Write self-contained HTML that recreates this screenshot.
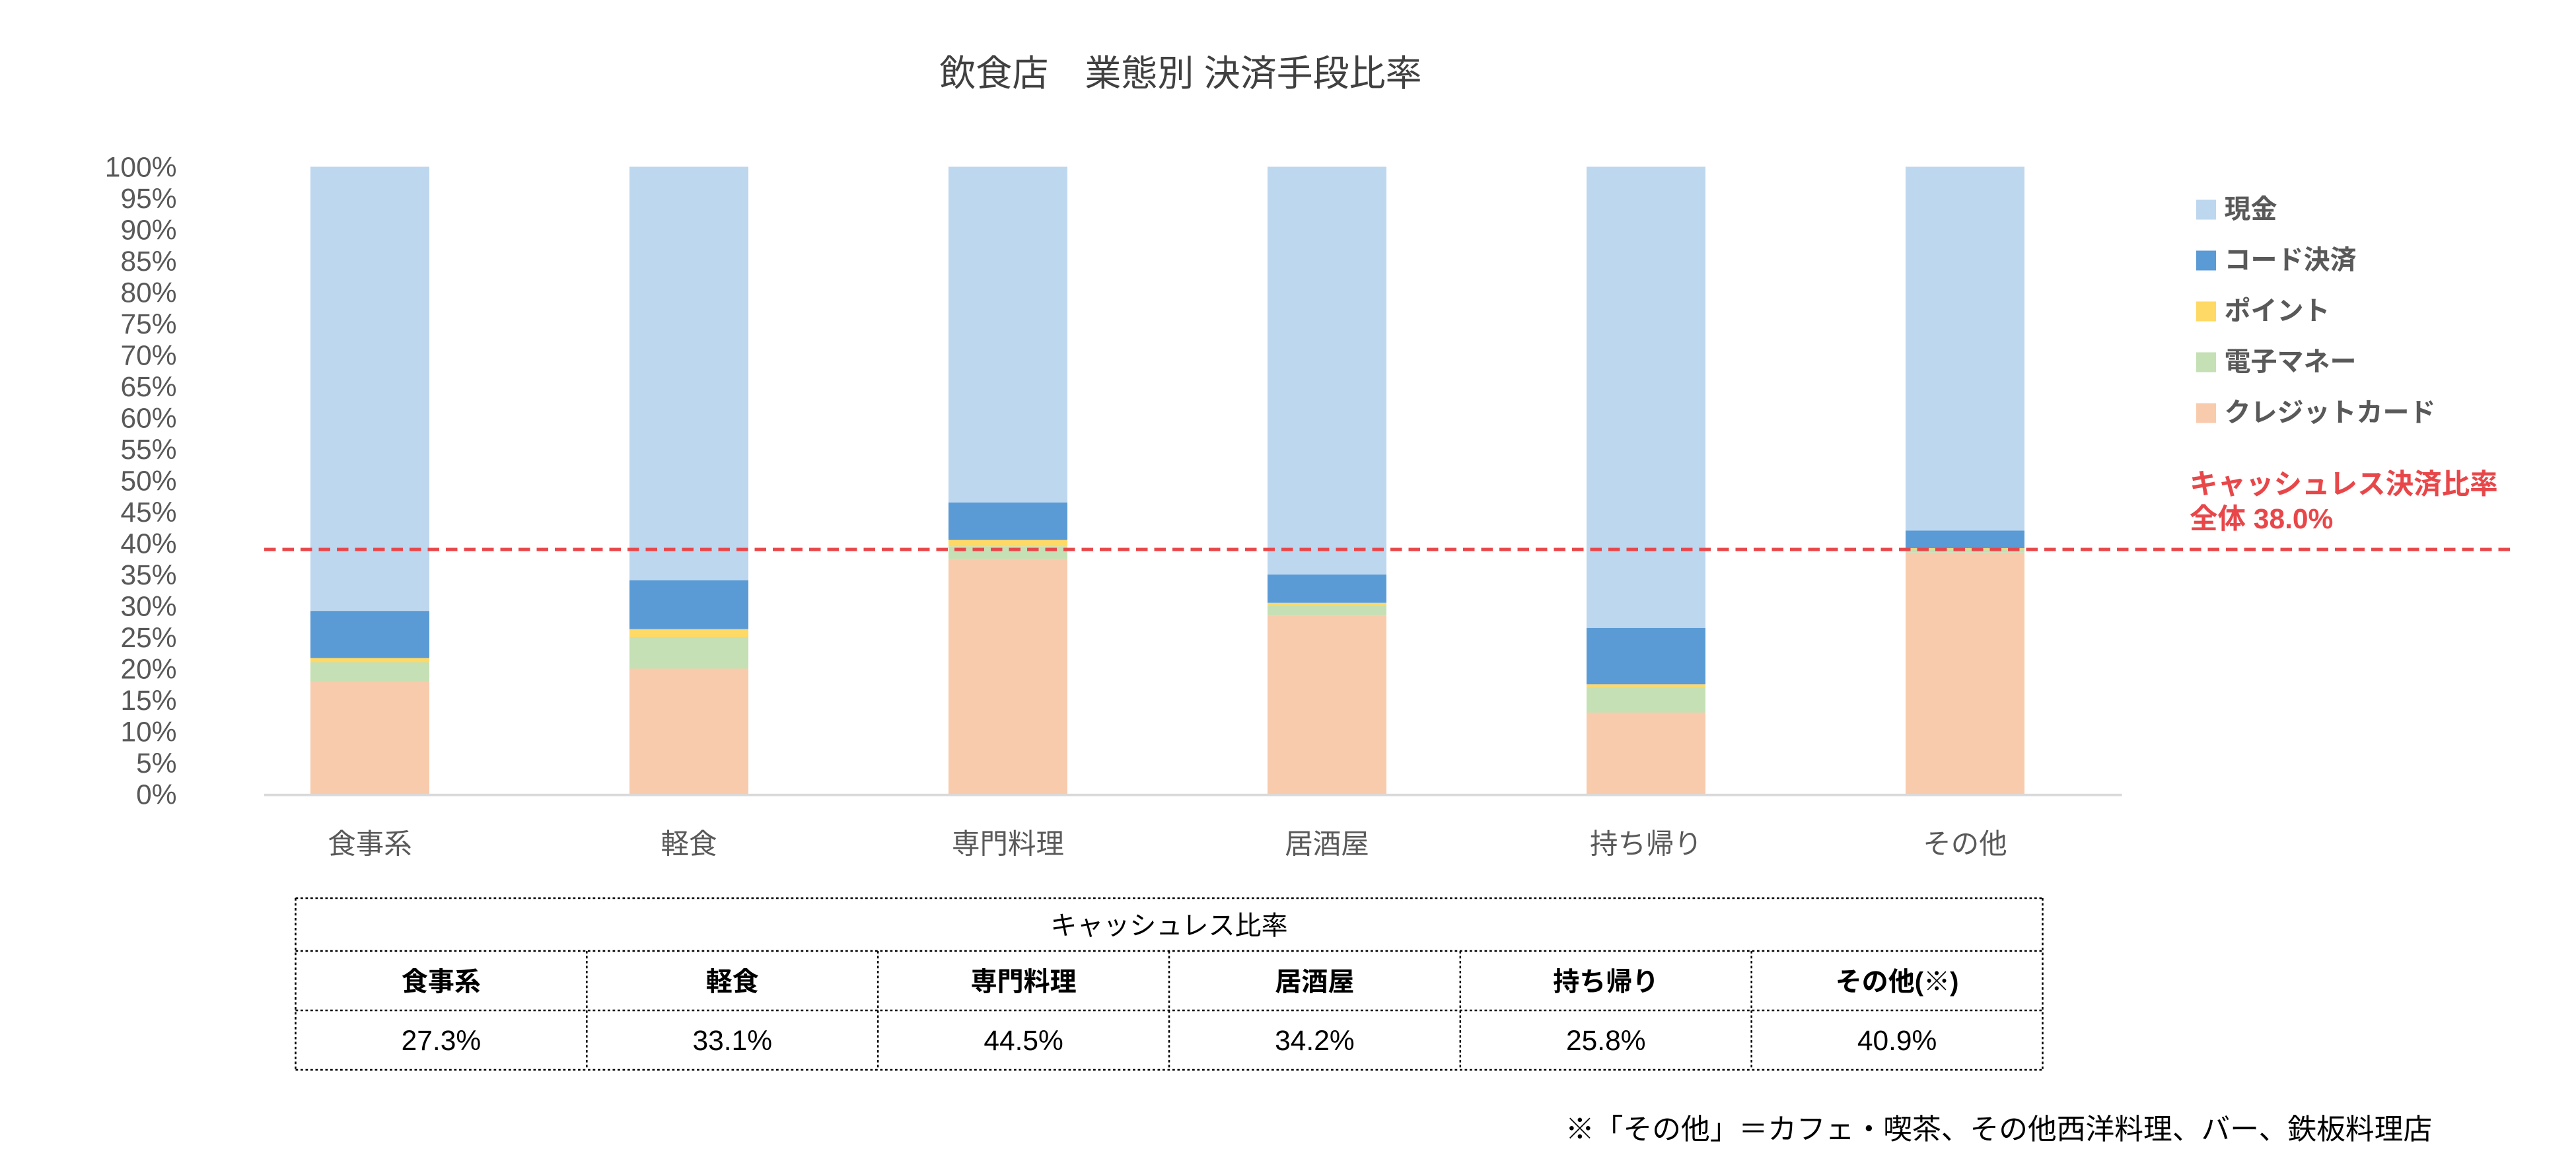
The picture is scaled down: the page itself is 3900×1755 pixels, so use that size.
<!DOCTYPE html>
<html><head><meta charset="utf-8"><style>
html,body{margin:0;padding:0;background:#fff}
svg{display:block}
text{font-family:"Liberation Sans","Noto Sans CJK JP",sans-serif}
</style></head><body>
<svg id="chart" width="3900" height="1755" viewBox="0 0 1560 702" xmlns="http://www.w3.org/2000/svg">
<text x="715" y="52" font-size="22" fill="#404040" text-anchor="middle">飲食店　業態別 決済手段比率</text>
<g id="yaxis"></g>
<g id="bars"></g>
<line x1="160" y1="481.5" x2="1285" y2="481.5" stroke="#d9d9d9" stroke-width="1.5"/>
<g id="xlabels"></g>
<line id="refline" x1="160" x2="1522" stroke="#e8474a" stroke-width="2" stroke-dasharray="7,4"/>
<text x="1326" y="299" font-size="17" font-weight="bold" fill="#e8474a">キャッシュレス決済比率</text>
<text x="1326" y="320" font-size="17" font-weight="bold" fill="#e8474a">全体 38.0%</text>
<g id="legend"></g>
<g id="table"></g>
<text x="948" y="690" font-size="17.5" fill="#000">※「その他」＝カフェ・喫茶、その他西洋料理、バー、鉄板料理店</text>
</svg>
<script>
const categories=["食事系","軽食","専門料理","居酒屋","持ち帰り","その他"];
const credit=[18,20,37.5,28.5,13,38.5];
const emoney=[3,5,2,1.5,4,0.5];
const point=[0.7,1.3,1,0.5,0.5,0.2];
const code=[7.5,7.8,6,4.5,9,2.8];
const seriesNames=["クレジットカード","電子マネー","ポイント","コード決済","現金"];
const legendOrder=["現金","コード決済","ポイント","電子マネー","クレジットカード"];
const yTicks=[0,5,10,15,20,25,30,35,40,45,50,55,60,65,70,75,80,85,90,95,100];
const overall=39;
const tableCats=["食事系","軽食","専門料理","居酒屋","持ち帰り","その他(※)"];
const tableVals=["27.3%","33.1%","44.5%","34.2%","25.8%","40.9%"];

const colors={"現金":"#bdd7ee","コード決済":"#5b9bd5","ポイント":"#ffd966","電子マネー":"#c5e0b4","クレジットカード":"#f8cbad"};
const NS="http://www.w3.org/2000/svg";
const y=v=>481-v*3.8;
const x=i=>224+i*193.2;
const bw=72;
function mk(tag,attrs,parent,txt){const e=document.createElementNS(NS,tag);for(const k in attrs)e.setAttribute(k,attrs[k]);if(txt!==undefined)e.textContent=txt;parent.appendChild(e);return e;}

const ya=document.getElementById('yaxis');
yTicks.forEach(t=>{const e=mk('text',{x:107,y:y(t)+6,'font-size':17,fill:'#595959','text-anchor':'end'},ya,t+'%');

});

const bars=document.getElementById('bars');
categories.forEach((c,i)=>{
  const vals=[credit[i],emoney[i],point[i],code[i]];
  const tot=vals.reduce((a,b)=>a+b,0);
  vals.push(100-tot);
  let base=0;
  vals.forEach((v,j)=>{
    const r=mk('rect',{x:x(i)-bw/2,y:y(base+v),width:bw,height:v*3.8,fill:colors[seriesNames[j]]},bars);
    
    
    base+=v;
  });
  const t=mk('text',{x:x(i),y:517,'font-size':17,fill:'#595959','text-anchor':'middle'},document.getElementById('xlabels'),c);
  
  
});
const rl=document.getElementById('refline');rl.setAttribute('y1',y(overall));rl.setAttribute('y2',y(overall));

const lg=document.getElementById('legend');
legendOrder.forEach((n,i)=>{
  const yy=126+i*30.8;
  const r=mk('rect',{x:1330,y:yy-5,width:12,height:12,fill:colors[n]},lg);
  
  
  const t=mk('text',{x:1347,y:yy+6,'font-size':16,'font-weight':'bold',fill:'#595959'},lg,n);
  
  
});

const tb=document.getElementById('table');
const L=179,R=1237,T=544,r1=576,r2=612,B=648,cw=(R-L)/6;
const ds={stroke:'#000','stroke-width':1,'stroke-dasharray':'1.5,1.5'};
function dl(x1,y1,x2,y2){const l=mk('line',Object.assign({x1,y1,x2,y2},ds),tb);}
dl(L,T,R,T);dl(L,r1,R,r1);dl(L,r2,R,r2);dl(L,B,R,B);dl(L,T,L,B);dl(R,T,R,B);
for(let k=1;k<6;k++)dl(L+k*cw,r1,L+k*cw,B);
const h=mk('text',{x:(L+R)/2,y:566,'font-size':16,fill:'#000','text-anchor':'middle'},tb,'キャッシュレス比率');


tableCats.forEach((c,k)=>{
  const a=mk('text',{x:L+cw*(k+.5),y:600,'font-size':16,fill:'#000','text-anchor':'middle','font-weight':'bold'},tb,c);
  
  
  const b=mk('text',{x:L+cw*(k+.5),y:636,'font-size':17,fill:'#000','text-anchor':'middle'},tb,tableVals[k]);
  
  
});
</script>
</body></html>
